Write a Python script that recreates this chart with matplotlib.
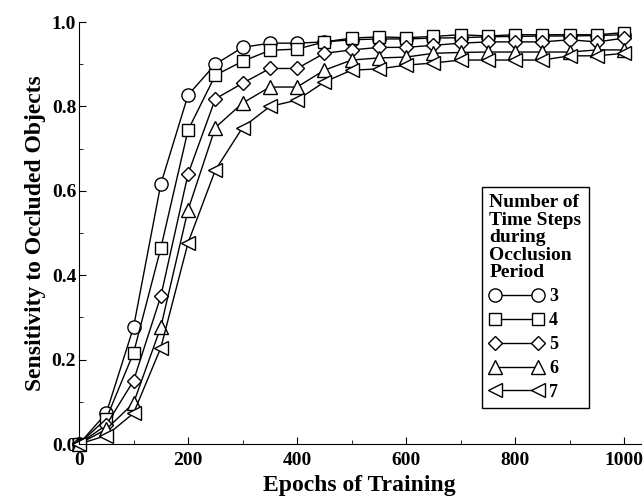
import matplotlib
matplotlib.use('Agg')
import matplotlib.pyplot as plt
from matplotlib.ticker import MultipleLocator

plt.rcParams['font.family'] = ['Liberation Serif', 'DejaVu Serif']
plt.rcParams['font.weight'] = 'bold'

epochs = [0, 50, 100, 150, 200, 250, 300, 350, 400, 450, 500,
          550, 600, 650, 700, 750, 800, 850, 900, 950, 1000]
steps3 = [0.0, 0.073, 0.277, 0.616, 0.827, 0.90, 0.94, 0.95, 0.95, 0.953, 0.958,
          0.96, 0.96, 0.962, 0.963, 0.965, 0.966, 0.967, 0.967, 0.968, 0.97]
steps4 = [0.0, 0.06, 0.216, 0.464, 0.744, 0.874, 0.907, 0.933, 0.936, 0.953, 0.962,
          0.965, 0.963, 0.966, 0.97, 0.967, 0.97, 0.97, 0.97, 0.97, 0.975]
steps5 = [0.0, 0.045, 0.15, 0.35, 0.64, 0.818, 0.855, 0.89, 0.89, 0.926, 0.934,
          0.94, 0.94, 0.945, 0.95, 0.953, 0.953, 0.953, 0.958, 0.953, 0.962]
steps6 = [0.0, 0.035, 0.097, 0.277, 0.555, 0.75, 0.808, 0.846, 0.846, 0.886, 0.91,
          0.915, 0.917, 0.926, 0.928, 0.929, 0.929, 0.929, 0.929, 0.934, 0.934]
steps7 = [0.0, 0.02, 0.073, 0.228, 0.477, 0.649, 0.75, 0.80, 0.815, 0.858, 0.886,
          0.889, 0.898, 0.903, 0.91, 0.91, 0.91, 0.91, 0.92, 0.92, 0.926]
labels = ['3', '4', '5', '6', '7']
markers = ['o', 's', 'D', '^', '<']
sizes = [9.5, 9, 7, 9.5, 9.5]

fig = plt.figure(figsize=(6.44, 4.97), dpi=100)
ax = fig.add_axes([0.1227, 0.1066, 0.872, 0.849])

for ys, lab, m, ms in zip([steps3, steps4, steps5, steps6, steps7], labels, markers, sizes):
    ax.plot(epochs, ys, color='black', lw=1.0, marker=m, ms=ms,
            mfc='white', mec='black', mew=1.0, label=lab, clip_on=False)

ax.set_xlim(0, 1030)
ax.set_ylim(0, 1.0)
ax.xaxis.set_major_locator(MultipleLocator(200))
ax.xaxis.set_minor_locator(MultipleLocator(100))
ax.yaxis.set_major_locator(MultipleLocator(0.2))
ax.yaxis.set_minor_locator(MultipleLocator(0.1))
ax.set_yticks([0, 0.2, 0.4, 0.6, 0.8, 1.0])
ax.set_yticklabels(['0.0', '0.2', '0.4', '0.6', '0.8', '1.0'])
ax.tick_params(which='both', direction='in', labelsize=14)
ax.tick_params(which='major', length=5)
ax.tick_params(which='minor', length=3)
ax.tick_params(axis='x', pad=6)
ax.tick_params(axis='y', pad=2)
ax.spines['top'].set_visible(False)
ax.spines['right'].set_visible(False)

ax.set_xlabel('Epochs of Training', fontsize=17, fontweight='bold', labelpad=4)
ax.set_ylabel('Sensitivity to Occluded Objects', fontsize=17, fontweight='bold', labelpad=4)

leg = ax.legend(title='Number of\nTime Steps\nduring\nOcclusion\nPeriod',
                loc='upper left', bbox_to_anchor=(0.718, 0.61),
                numpoints=2, handlelength=3.0, handletextpad=0.3,
                labelspacing=0.38, alignment='left', fontsize=13,
                title_fontproperties={'weight': 'bold', 'size': 14},
                fancybox=False, framealpha=1, edgecolor='black',
                borderpad=0.4, borderaxespad=0)
leg.get_title().set_linespacing(1.05)
leg.get_frame().set_linewidth(1.0)

fig.savefig('out.png', dpi=100)
